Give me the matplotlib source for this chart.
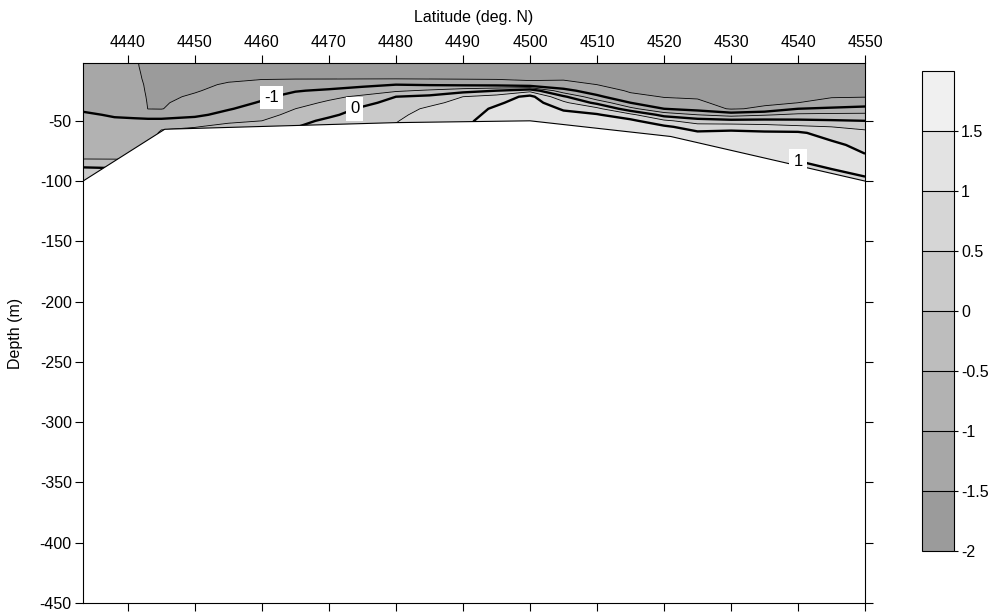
import numpy as np
import matplotlib.pyplot as plt
from matplotlib.patches import Polygon

plt.rcParams['font.family'] = ['Liberation Sans', 'DejaVu Sans']
plt.rcParams['axes.unicode_minus'] = False
plt.rcParams['contour.negative_linestyle'] = 'solid'

# station latitudes and sample depths (m)
stations = [4433.3, 4438, 4441, 4443, 4445, 4450, 4455, 4460, 4465, 4470, 4475,
            4480, 4485, 4490, 4495, 4500, 4505, 4510, 4515, 4520, 4525, 4530,
            4535, 4540, 4545, 4550]
depths = [-2, -5, -10, -15, -20, -25, -30, -35, -40, -45, -50, -55, -60,
          -70, -80, -90, -100]

# one profile per station, surface to 100 m
temperature = [
    [-1.30, -1.28, -1.25, -1.22, -1.18, -1.14, -1.10, -1.07, -1.03, -0.97, -0.93, -0.89, -0.85, -0.78, -0.62, 0.10, 0.30],
    [-1.32, -1.30, -1.28, -1.25, -1.20, -1.16, -1.12, -1.08, -1.05, -1.02, -0.97, -0.92, -0.88, -0.80, -0.62, 0.05, 0.30],
    [-1.45, -1.44, -1.42, -1.38, -1.33, -1.28, -1.22, -1.16, -1.10, -1.04, -0.97, -0.92, -0.88, -0.80, -0.62, 0.00, 0.30],
    [-1.62, -1.62, -1.60, -1.60, -1.58, -1.57, -1.55, -1.53, -1.51, -1.20, -0.90, -0.85, -0.80, -0.75, -0.60, 0.00, 0.30],
    [-1.65, -1.65, -1.64, -1.63, -1.62, -1.60, -1.58, -1.55, -1.52, -1.20, -0.90, -0.60, -0.40, -0.20, 0.00, 0.10, 0.20],
    [-1.70, -1.68, -1.65, -1.62, -1.58, -1.53, -1.45, -1.35, -1.22, -1.08, -0.85, -0.52, -0.30, -0.10, 0.00, 0.10, 0.20],
    [-1.72, -1.68, -1.62, -1.56, -1.46, -1.38, -1.28, -1.16, -1.03, -0.88, -0.60, -0.35, -0.20, -0.05, 0.05, 0.10, 0.20],
    [-1.72, -1.65, -1.58, -1.52, -1.38, -1.24, -1.08, -0.96, -0.84, -0.68, -0.50, -0.30, -0.10, 0.05, 0.10, 0.15, 0.20],
    [-1.72, -1.65, -1.58, -1.52, -1.25, -1.03, -0.85, -0.68, -0.50, -0.35, -0.18, -0.02, 0.10, 0.20, 0.25, 0.30, 0.30],
    [-1.72, -1.66, -1.58, -1.52, -1.22, -0.93, -0.62, -0.42, -0.28, -0.10, 0.12, 0.25, 0.35, 0.40, 0.45, 0.45, 0.45],
    [-1.72, -1.66, -1.58, -1.52, -1.12, -0.78, -0.40, -0.15, 0.08, 0.22, 0.32, 0.40, 0.45, 0.50, 0.55, 0.55, 0.55],
    [-1.72, -1.66, -1.60, -1.52, -1.00, -0.58, 0.00, 0.18, 0.30, 0.38, 0.47, 0.55, 0.60, 0.65, 0.70, 0.70, 0.70],
    [-1.72, -1.66, -1.60, -1.53, -1.05, -0.42, 0.12, 0.38, 0.58, 0.70, 0.78, 0.85, 0.90, 0.95, 0.95, 0.95, 0.95],
    [-1.72, -1.66, -1.60, -1.54, -1.10, -0.20, 0.50, 0.65, 0.75, 0.82, 0.90, 0.95, 1.00, 1.05, 1.05, 1.05, 1.05],
    [-1.72, -1.66, -1.60, -1.55, -1.15, 0.00, 0.70, 0.92, 1.08, 1.15, 1.20, 1.22, 1.25, 1.25, 1.25, 1.25, 1.25],
    [-1.72, -1.68, -1.62, -1.57, -1.35, 0.35, 1.15, 1.25, 1.30, 1.32, 1.35, 1.35, 1.35, 1.35, 1.35, 1.35, 1.35],
    [-1.72, -1.68, -1.62, -1.56, -1.32, -0.85, 0.10, 0.62, 0.95, 1.12, 1.20, 1.25, 1.28, 1.30, 1.30, 1.30, 1.30],
    [-1.72, -1.68, -1.62, -1.57, -1.50, -1.25, -0.90, -0.15, 0.65, 1.05, 1.15, 1.20, 1.22, 1.25, 1.25, 1.25, 1.25],
    [-1.75, -1.72, -1.68, -1.64, -1.60, -1.56, -1.38, -1.00, -0.35, 0.65, 1.12, 1.18, 1.20, 1.22, 1.22, 1.22, 1.22],
    [-1.75, -1.73, -1.70, -1.67, -1.63, -1.58, -1.52, -1.35, -1.00, -0.20, 0.60, 1.10, 1.18, 1.20, 1.20, 1.20, 1.20],
    [-1.75, -1.73, -1.70, -1.67, -1.63, -1.58, -1.53, -1.45, -1.20, -0.50, 0.25, 0.75, 1.08, 1.20, 1.20, 1.20, 1.20],
    [-1.78, -1.76, -1.74, -1.72, -1.70, -1.67, -1.64, -1.60, -1.55, -0.70, 0.15, 0.80, 1.12, 1.22, 1.20, 1.15, 1.15],
    [-1.78, -1.76, -1.73, -1.70, -1.67, -1.64, -1.60, -1.58, -1.42, -0.55, 0.15, 0.72, 1.08, 1.20, 1.15, 1.05, 1.00],
    [-1.78, -1.76, -1.72, -1.68, -1.64, -1.60, -1.56, -1.50, -1.00, -0.40, 0.10, 0.60, 1.08, 1.15, 1.05, 0.90, 0.90],
    [-1.78, -1.76, -1.72, -1.68, -1.63, -1.58, -1.53, -1.35, -0.92, -0.38, 0.05, 0.50, 0.78, 1.12, 1.10, 1.00, 0.90],
    [-1.78, -1.76, -1.72, -1.67, -1.62, -1.57, -1.52, -1.25, -0.85, -0.38, 0.00, 0.42, 0.58, 0.84, 1.06, 1.05, 0.97],
]

# sea floor along the section
bottom_lat = [4433.3, 4445.5, 4480, 4500, 4521, 4550]
bottom_depth = [-100, -57, -51.5, -50, -63, -100]

levels = [-2, -1.5, -1, -0.5, 0, 0.5, 1, 1.5, 2]
band_colors = ['#9b9b9b', '#a7a7a7', '#b2b2b2', '#bdbdbd',
               '#cacaca', '#d6d6d6', '#e3e3e3', '#f0f0f0']
thick_levels = [-1, 0, 1]
thin_levels = [-1.5, -0.5, 0.5, 1.5]
lat_ticks = list(range(4440, 4551, 10))
depth_ticks = list(range(-450, -49, 50))
cbar_labels = ['-2', '-1.5', '-1', '-0.5', '0', '0.5', '1', '1.5']

fig = plt.figure(figsize=(9.95, 6.13), dpi=100)
ax = fig.add_axes([0.0834, 0.0163, 0.786, 0.881])

X, Y = np.meshgrid(stations, depths)
Z = np.array(temperature).T

cf = ax.contourf(X, Y, Z, levels=levels, colors=band_colors)
thin = ax.contour(X, Y, Z, levels=thin_levels, colors='black', linewidths=0.6,
                  linestyles='solid')
thick = ax.contour(X, Y, Z, levels=thick_levels, colors='black', linewidths=1.7,
                   linestyles='solid')

# blank out everything below the sea floor
water_xy = [(bottom_lat[0], 0), (bottom_lat[-1], 0)] + list(zip(bottom_lat[::-1], bottom_depth[::-1]))
water = Polygon(water_xy, closed=True, facecolor='none', edgecolor='none', transform=ax.transData)
ax.add_patch(water)
for cs in (cf, thin, thick):
    cs.set_clip_path(water)
ax.plot(bottom_lat, bottom_depth, color='black', lw=0.8)

labels = ax.clabel(thick, inline=True, fmt='%g', fontsize=12, inline_spacing=8,
                   manual=[(4460.5, -30), (4475.1, -41), (4539, -74)])
for t in labels:
    t.set_rotation(0)
    t.set_bbox(dict(facecolor='white', edgecolor='none', pad=3))

ax.set_xlim(4433.3, 4550)
ax.set_ylim(-450, -2)
ax.set_xticks(lat_ticks)
ax.set_yticks(depth_ticks)
ax.xaxis.set_label_position('top')
ax.tick_params(axis='x', top=True, bottom=True, labeltop=True, labelbottom=False,
               direction='out', length=6, width=0.8, labelsize=11.5, pad=3)
ax.tick_params(axis='y', left=True, right=True, direction='out', length=6,
               width=0.8, labelsize=11.5, pad=2)
ax.set_xlabel('Latitude (deg. N)', fontsize=11.5, labelpad=10)
ax.set_ylabel('Depth (m)', fontsize=11.5, labelpad=12)
for s in ax.spines.values():
    s.set_linewidth(0.8)

cax = fig.add_axes([0.9266, 0.1011, 0.0322, 0.783])
cb = fig.colorbar(cf, cax=cax, ticks=levels[:-1], drawedges=True)
cb.ax.set_yticklabels(cbar_labels)
cb.ax.tick_params(length=3, width=0.8, labelsize=11.5, pad=2)
cb.outline.set_linewidth(0.8)
cb.dividers.set_linewidth(0.8)

fig.savefig('out.png', dpi=100)
